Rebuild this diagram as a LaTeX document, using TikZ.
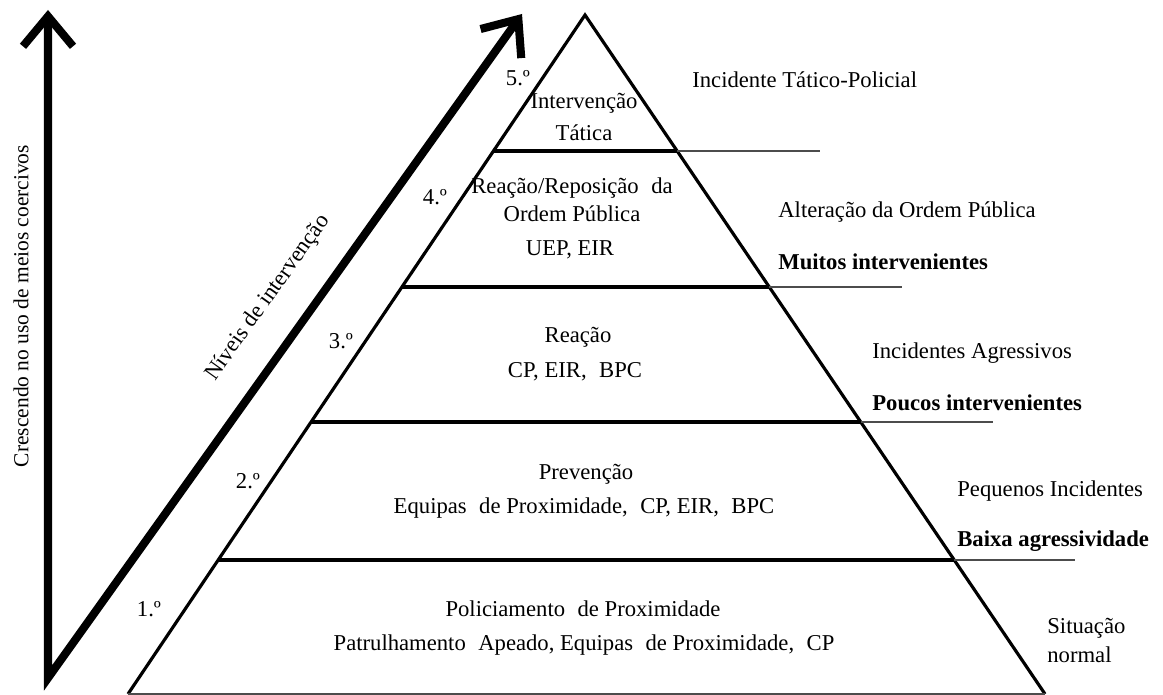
\documentclass[tikz,border=0pt]{standalone}
\usepackage{fontspec}
\setmainfont{Liberation Serif}
\usetikzlibrary{
    arrows.meta,
    positioning
}
\newcommand{\basefont}{\fontsize{12.9}{15}\selectfont}
\newcommand{\gap}{\hspace{0.55em}}
\tikzset{
  edge/.style     = {line width=1.8pt},
  cut/.style      = {line width=2.4pt},
  tail/.style     = {line width=0.8pt, black!70},
  bigarrow/.style = {line width=4.6pt, line join=miter,
                     {Straight Barb[length=0.6cm, width=1.0cm]}-{Straight Barb[length=0.6cm, width=1.0cm]}},
  lbl/.style      = {inner sep=0pt},
  side/.style     = {inner sep=0pt, anchor=west},
  sidebf/.style   = {side, font=\basefont\bfseries}
}

\begin{document}
\begin{tikzpicture}[x=0.02cm, y=-0.02cm, font=\basefont]
\useasboundingbox (0,0) rectangle (1163,695);

% --- PYRAMID CORNERS ---
\coordinate (apex) at (585,15);
\coordinate (bl) at (128,694);
\coordinate (br) at (1045,694);

% --- LEVEL BORDERS (left, right, end of tail) ---
\coordinate (c1l) at (494,151);  \coordinate (c1r) at (677,151);  \coordinate (c1e) at (820,151);
\coordinate (c2l) at (402,287);  \coordinate (c2r) at (769,287);  \coordinate (c2e) at (902,287);
\coordinate (c3l) at (311,422);  \coordinate (c3r) at (861,422);  \coordinate (c3e) at (993,422);
\coordinate (c4l) at (218,560);  \coordinate (c4r) at (954,560);  \coordinate (c4e) at (1075,560);

\draw[edge] (bl) -- (apex) -- (br);
\draw[tail] (bl) -- (br);
\foreach \i in {1,...,4} {
  \draw[cut] (c\i l) -- (c\i r);
  \draw[tail] (c\i r) -- (c\i e);
}

% --- AXES ---
\coordinate (vtop) at (48,10);
\coordinate (vbot) at (48,678);
\coordinate (dtop) at (522,14);
\draw[bigarrow] (vtop) -- (vbot) -- (dtop);

\node[lbl, rotate=90, font=\fontsize{12.2}{14}\selectfont] (axisv) at (21,306) {Crescendo no uso de meios coercivos};
\node[lbl, rotate=54.5] (axisd) at (268,298) {Níveis de intervenção};

% --- LEVEL NUMBERS ---
\node[lbl] (n5) at (518,78)  {5.º};
\node[lbl] (n4) at (435,197) {4.º};
\node[lbl] (n3) at (341,341) {3.º};
\node[lbl] (n2) at (248,481) {2.º};
\node[lbl] (n1) at (149,609) {1.º};

% --- LEVEL CONTENTS ---
\node[lbl] (t5a) at (584,103) {Intervenção};
\node[lbl] (t5b) at (584,133) {Tática};

\node[lbl] (t4a) at (572,188) {Reação/Reposição\gap da};
\node[lbl] (t4b) at (572,214) {Ordem Pública};
\node[lbl] (t4c) at (570,250) {UEP, EIR};

\node[lbl] (t3a) at (578,337) {Reação};
\node[lbl] (t3b) at (575,372) {CP, EIR,\gap BPC};

\node[lbl] (t2a) at (586,474) {Prevenção};
\node[lbl] (t2b) at (584,508) {Equipas\gap de Proximidade,\gap CP, EIR,\gap BPC};

\node[lbl] (t1a) at (583,609) {Policiamento\gap de Proximidade};
\node[lbl] (t1b) at (584,645) {Patrulhamento\gap Apeado, Equipas\gap de Proximidade,\gap CP};

% --- SITUATIONS ---
\node[side] (s5)  at (692,80)  {Incidente Tático-Policial};
\node[side] (s4)  at (778,212) {Alteração da Ordem Pública};
\node[sidebf] (s4b) at (778,262) {Muitos intervenientes};
\node[side] (s3)  at (872,353) {Incidentes Agressivos};
\node[sidebf] (s3b) at (872,403) {Poucos intervenientes};
\node[side] (s2)  at (957,491) {Pequenos Incidentes};
\node[sidebf] (s2b) at (957,541) {Baixa agressividade};
\node[side] (s1)  at (1047,628) {Situação};
\node[side] (s1b) at (1047,655) {normal};
\end{tikzpicture}
\end{document}
